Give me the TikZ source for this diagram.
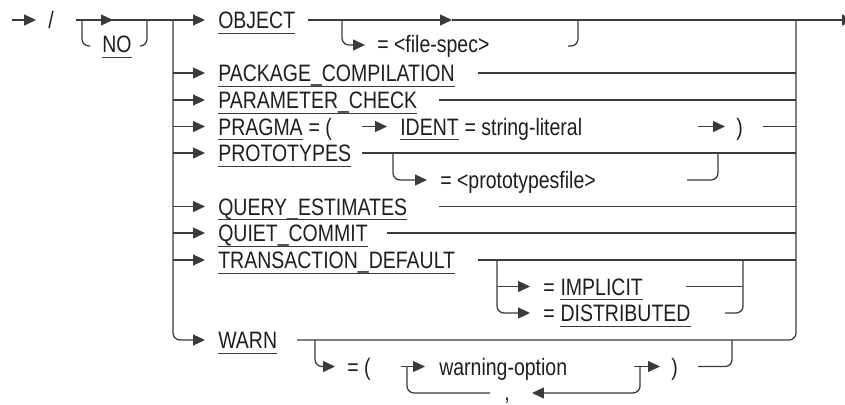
\documentclass[tikz,border=0pt]{standalone}
\usepackage{fontspec}
\setmainfont{Liberation Sans}[FakeStretch=0.82]
\usepackage{xcolor}
\usepackage{tikz}
\usetikzlibrary{arrows.meta, positioning}
\definecolor{railgray}{HTML}{3A3A3A}
\definecolor{textgray}{HTML}{1E1E1E}

\begin{document}
\begin{tikzpicture}[
    x=0.025cm, y=-0.025cm,
    rail/.style={draw=railgray, line width=0.9pt, rounded corners=5pt},
    arr/.style={rail, -{Triangle[length=8.5pt,width=7.8pt]}},
    word/.style={anchor=base west, inner sep=0pt, text=textgray, font=\fontsize{16.9}{19}\selectfont},
    kw/.style={word, append after command={([yshift=-3.2pt]\tikzlastnode.base west) edge[draw=railgray, line width=0.7pt] ([yshift=-3.2pt]\tikzlastnode.base east)}}
]
    \useasboundingbox (0,0) rectangle (845,404);

    % Junction points
    \coordinate (start) at (12,20);
    \coordinate (jl) at (173,20);
    \coordinate (jr) at (796,20);
    \coordinate (finish) at (854,20);

    % Qualifier and NO
    \node[word] (slash) at (48,28.5) {/};
    \node[kw] (no) at (102,52.5) {NO};

    % Keywords
    \node[kw] (obj) at (218,28.5) {OBJECT};
    \node[word] (fs) at (377,52.5) {= <file-spec>};
    \node[kw] (pkg) at (218,81.5) {PACKAGE\_COMPILATION};
    \node[kw] (par) at (218,108.5) {PARAMETER\_CHECK};
    \node[kw] (pra) at (218,135) {PRAGMA};
    \node[word, base right=3.8pt of pra] (praeq) {= (};
    \node[kw] (ident) at (400,135) {IDENT};
    \node[word, base right=3.8pt of ident] (strlit) {= string-literal};
    \node[word] (prarp) at (736,135) {)};
    \node[kw] (pro) at (218,161.5) {PROTOTYPES};
    \node[word] (pfile) at (440,188.5) {= <prototypesfile>};
    \node[kw] (qe) at (218,215) {QUERY\_ESTIMATES};
    \node[kw] (qc) at (218,241.5) {QUIET\_COMMIT};
    \node[kw] (td) at (218,268.5) {TRANSACTION\_DEFAULT};
    \node[word] (impeq) at (543,295) {=};
    \node[kw, base right=3.8pt of impeq] (imp) {IMPLICIT};
    \node[word] (diseq) at (543,321.5) {=};
    \node[kw, base right=3.8pt of diseq] (dis) {DISTRIBUTED};
    \node[kw] (warn) at (218,348.5) {WARN};
    \node[word] (warneq) at (347,375) {= (};
    \node[word] (wopt) at (439,375) {warning-option};
    \node[word] (warnrp) at (671,375) {)};
    \node[word] (comma) at (504,400) {,};

    % Main line
    \draw[arr, shorten >=8.5pt] (start) -- (slash.west |- start);
    \draw[rail] (76,20) -- (jl);
    \draw[arr] (76,20) -- (113,20);
    \draw[rail] (82,20) |- (90,46);
    \draw[rail] (140,46) -| (147,20);
    \draw[arr] (jl) -- (205,20);
    \draw[arr] (308,20) -- (452,20);
    \draw[arr] (452,20) -- (finish);

    % Left and right rails
    \draw[arr] (jl) |- (205,340);
    \draw[rail] (297,340) -| (jr);

    % Branch entries
    \foreach \y in {73,100,126.5,153,206.5,233,260}
        \draw[arr] (173,\y) -- (205,\y);

    % Branch exits
    \foreach \x/\y in {478/73, 439/100, 763/126.5, 362/153, 439/206.5, 387/233, 478/260}
        \draw[rail] (\x,\y) -- (796,\y);

    % OBJECT option
    \draw[arr] (342,20) |- (365,45);
    \draw[rail] (568,46) -| (578,20);

    % PRAGMA
    \draw[arr] (362,126.5) -- (387,126.5);
    \draw[arr] (698,126.5) -- (725,126.5);

    % PROTOTYPES option
    \draw[arr] (393,153) |- (427,180);
    \draw[rail] (687,180) -| (718,153);

    % TRANSACTION_DEFAULT options
    \draw[arr] (497,260) |- (530,313);
    \draw[arr] (497,286.5) -- (530,286.5);
    \draw[rail] (686,286.5) -- (743,286.5);
    \draw[rail] (725,313) -| (743,260);

    % WARN options
    \draw[arr] (315,340) |- (335,366.5);
    \draw[arr] (401,366.5) -- (425,366.5);
    \draw[rail] (407,366.5) |- (490,393);
    \draw[arr] (634,366.5) -- (660,366.5);
    \draw[arr] (640,366.5) |- (532,393);
    \draw[rail] (698,366.5) -| (732,340);

\end{tikzpicture}
\end{document}
